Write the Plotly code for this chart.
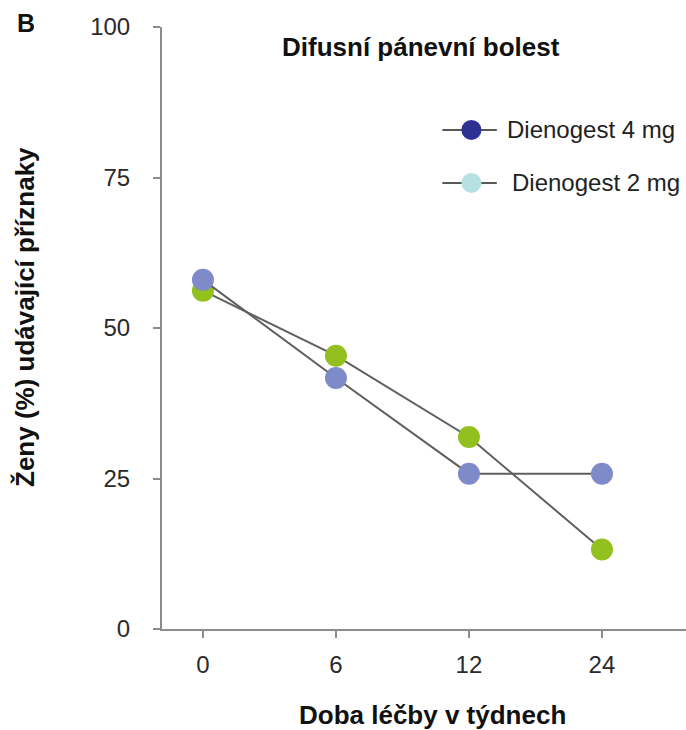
import plotly.graph_objects as go

# Treatment duration (weeks) and share of women reporting diffuse pelvic pain (%)
weeks = ["0", "6", "12", "24"]
dienogest_4mg = [58.0, 41.7, 25.8, 25.8]
dienogest_2mg = [56.2, 45.4, 31.9, 13.2]

series_names = ["Dienogest 4 mg", "Dienogest 2 mg"]
point_colors = ["#7f8bc8", "#92c01f"]
legend_colors = ["#2e3192", "#b7e0e3"]

FONT = "Liberation Sans, Arial, sans-serif"
AXIS_COLOR = "#8c8c8c"
LINE_COLOR = "#5f5f5f"

fig = go.Figure()

# green series first so the lavender markers sit on top at week 0
for vals, color in [(dienogest_2mg, point_colors[1]), (dienogest_4mg, point_colors[0])]:
    fig.add_trace(go.Scatter(
        x=list(range(len(weeks))), y=vals, mode="lines+markers",
        line=dict(color=LINE_COLOR, width=2),
        marker=dict(size=22, color=color, line=dict(width=0)),
        showlegend=False, hoverinfo="skip",
    ))

fig.update_xaxes(
    range=[-0.308, 3.632], tickmode="array",
    tickvals=list(range(len(weeks))), ticktext=weeks,
    showgrid=False, zeroline=False,
    showline=True, linecolor=AXIS_COLOR, linewidth=2,
    ticks="outside", ticklen=7, tickwidth=2, tickcolor=AXIS_COLOR,
    tickfont=dict(family=FONT, size=24, color="#2a2a2a"),
    ticklabelstandoff=6,
)
fig.update_yaxes(
    range=[0, 100], tickvals=[0, 25, 50, 75, 100],
    showgrid=False, zeroline=False,
    showline=True, linecolor=AXIS_COLOR, linewidth=2,
    ticks="outside", ticklen=7, tickwidth=2, tickcolor=AXIS_COLOR,
    tickfont=dict(family=FONT, size=24, color="#2a2a2a"),
    ticklabelstandoff=18,
)

# hand-drawn legend: short line with a round marker, then the label
legend_y = [0.829, 0.741]
legend_text_x = [0.655, 0.665]
shapes = []
annotations = []
for name, col, ly, tx in zip(series_names, legend_colors, legend_y, legend_text_x):
    shapes.append(dict(type="line", xref="paper", yref="paper",
                       x0=0.535, x1=0.639, y0=ly, y1=ly,
                       line=dict(color="#222222", width=1.5)))
    shapes.append(dict(type="circle", xref="paper", yref="paper",
                       xsizemode="pixel", ysizemode="pixel",
                       xanchor=0.5905, yanchor=ly,
                       x0=-10, x1=10, y0=-10, y1=10,
                       fillcolor=col, line=dict(width=0)))
    annotations.append(dict(text=name, xref="paper", yref="paper",
                            x=tx, y=ly, xanchor="left", yanchor="middle",
                            showarrow=False,
                            font=dict(family=FONT, size=24, color="#222222")))

annotations += [
    dict(text="<b>Difusní pánevní bolest</b>", xref="paper", yref="paper",
         x=(421 - 162) / 524, y=(629 - 47) / 602, xanchor="center", yanchor="middle",
         showarrow=False, font=dict(family=FONT, size=26, color="#111111")),
    dict(text="<b>B</b>", xref="paper", yref="paper",
         x=(15 - 162) / 524, y=(629 - 23) / 602, xanchor="left", yanchor="middle",
         showarrow=False, font=dict(family=FONT, size=25, color="#111111")),
    dict(text="<b>Ženy (%) udávající příznaky</b>", xref="paper", yref="paper",
         x=(25 - 162) / 524, y=(629 - 317) / 602, xanchor="center", yanchor="middle",
         textangle=-90, showarrow=False,
         font=dict(family=FONT, size=26, color="#111111")),
    dict(text="<b>Doba léčby v týdnech</b>", xref="paper", yref="paper",
         x=(432 - 162) / 524, y=(629 - 715) / 602, xanchor="center", yanchor="middle",
         showarrow=False, font=dict(family=FONT, size=26, color="#111111")),
]

fig.update_layout(
    width=686, height=730,
    margin=dict(l=162, r=0, t=27, b=101),
    paper_bgcolor="white", plot_bgcolor="white",
    shapes=shapes, annotations=annotations,
    showlegend=False,
)

fig.write_html("out.html")
